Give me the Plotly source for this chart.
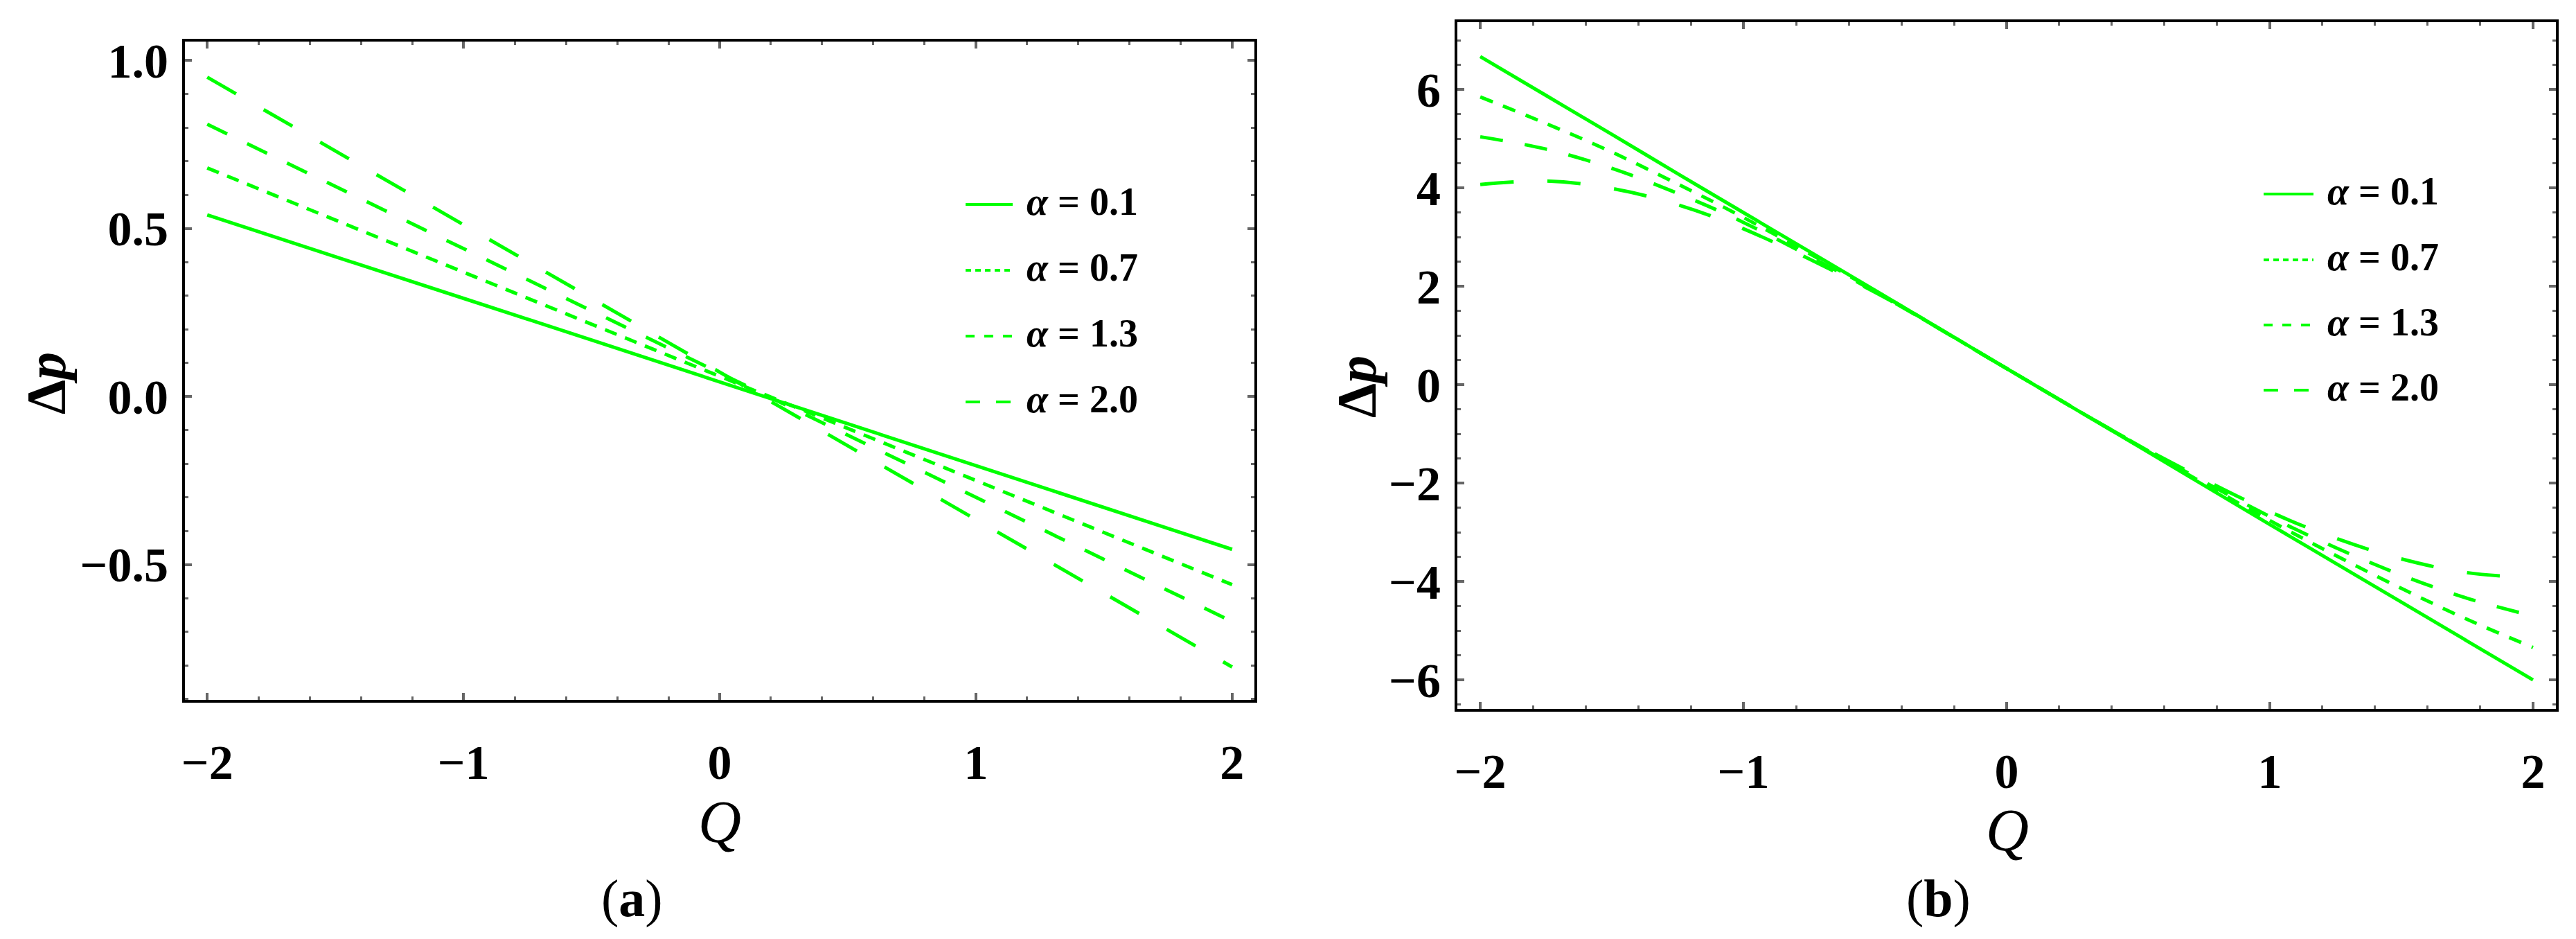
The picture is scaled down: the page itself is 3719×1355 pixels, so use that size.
import plotly.graph_objects as go

W, H = 3719, 1355

# ---------------- data ----------------
alphas = ["0.1", "0.7", "1.3", "2.0"]

# panel (a)
q_a = [-2.0, -1.5, -1.0, -0.5, 0.0, 0.5, 1.0, 1.5, 2.0]
dp_a_01 = [0.54, 0.415, 0.292, 0.168, 0.043, -0.082, -0.206, -0.331, -0.455]
dp_a_07 = [0.68, 0.525, 0.370, 0.215, 0.060, -0.095, -0.250, -0.405, -0.560]
dp_a_13 = [0.81, 0.625, 0.440, 0.255, 0.070, -0.115, -0.300, -0.485, -0.670]
dp_a_20 = [0.95, 0.731, 0.512, 0.292, 0.073, -0.146, -0.366, -0.585, -0.805]

# panel (b)
q_b = [-2.0, -1.75, -1.5, -1.25, -1.0, -0.5, 0.0, 0.5, 1.0, 1.25, 1.5, 1.75, 2.0]
dp_b_01 = [6.67, 5.88, 5.09, 4.29, 3.50, 1.92, 0.33, -1.25, -2.84, -3.63, -4.42, -5.21, -6.00]
dp_b_07 = [5.85, 5.31, 4.73, 4.08, 3.40, 1.91, 0.33, -1.24, -2.76, -3.47, -4.14, -4.77, -5.34]
dp_b_13 = [5.04, 4.79, 4.40, 3.89, 3.30, 1.89, 0.33, -1.23, -2.68, -3.31, -3.87, -4.34, -4.70]
dp_b_20 = [4.07, 4.14, 3.99, 3.66, 3.17, 1.88, 0.33, -1.22, -2.58, -3.12, -3.54, -3.82, -3.92]

# ---------------- styles ----------------
GREEN = "#00FF00"
dash_a = ["solid", "18px,13px", "32px,32px", "48px,46px"]
dash_b = ["solid", "19px,16px", "33px,32px", "48px,49px"]
legend_dash = ["solid", "8px,6px", "13px,14px", "21px,23px"]

fig = go.Figure()

for ys, d in zip([dp_a_01, dp_a_07, dp_a_13, dp_a_20], dash_a):
    fig.add_trace(go.Scatter(x=q_a, y=ys, mode="lines", xaxis="x", yaxis="y",
                             line=dict(color=GREEN, width=5, dash=d), showlegend=False))
for ys, d in zip([dp_b_01, dp_b_07, dp_b_13, dp_b_20], dash_b):
    fig.add_trace(go.Scatter(x=q_b, y=ys, mode="lines", xaxis="x2", yaxis="y2",
                             line=dict(color=GREEN, width=5, dash=d, shape="spline"),
                             showlegend=False))

def px_x(p):
    return p / W

def px_y(p):
    return 1 - p / H

tickfont = dict(family="Liberation Serif", size=70, color="black", weight="bold")

def axis(domain, rng, dtick, minor_dtick, fmt, standoff, anchor):
    return dict(domain=domain, range=rng, dtick=dtick, tick0=0, tickformat=fmt,
                automargin=False,
                showline=True, linecolor="black", linewidth=4, mirror="ticks",
                ticks="inside", ticklen=10, tickwidth=4, tickcolor="#666666",
                minor=dict(dtick=minor_dtick, ticks="inside", ticklen=5, tickwidth=3,
                           tickcolor="#666666", showgrid=False),
                showgrid=False, zeroline=False, tickfont=tickfont,
                ticklabelstandoff=standoff, anchor=anchor)

# pixel frames
La = (259, 1803, 52, 1002)
Lb = (2096, 3682, 24, 1015)

fig.update_layout(
    template="none",
    width=W, height=H, margin=dict(l=0, r=0, t=0, b=0, autoexpand=False),
    paper_bgcolor="white", plot_bgcolor="white", showlegend=False,
    xaxis=axis([px_x(La[0]), px_x(La[1])], [-2.087, 2.087], 1, 0.2, "d", 26, "y"),
    yaxis=axis([px_y(La[3]), px_y(La[2])], [-0.903, 1.056], 0.5, 0.1, ".1f", 6, "x"),
    xaxis2=axis([px_x(Lb[0]), px_x(Lb[1])], [-2.087, 2.087], 1, 0.2, "d", 26, "y2"),
    yaxis2=axis([px_y(Lb[3]), px_y(Lb[2])], [-6.59, 7.37], 2, 0.5, "d", 6, "x2"),
)

ann = []
shapes = []
# axis titles & panel labels
for xc, yc in ((59, 545), (1951, 550)):
    ann.append(dict(x=px_x(xc), y=px_y(yc), xref="paper", yref="paper", showarrow=False,
                    xanchor="center", yanchor="middle", text="<b>Δ<i>p</i></b>", textangle=-90,
                    font=dict(family="Liberation Serif", size=80, color="black")))
for xc, yc in ((1031, 1178), (2890, 1190)):
    ann.append(dict(x=px_x(xc), y=px_y(yc), xref="paper", yref="paper", showarrow=False,
                    xanchor="center", yanchor="middle",
                    text="<i>Q</i>", font=dict(family="Liberation Serif", size=86, color="black")))
for xc, lab in ((904, "a"), (2790, "b")):
    ann.append(dict(x=px_x(xc), y=px_y(1288), xref="paper", yref="paper", showarrow=False,
                    xanchor="center", yanchor="middle",
                    text=f"(<b>{lab}</b>)", font=dict(family="Liberation Serif", size=76, color="black")))

# legends
leg_a = dict(x0=1386, x1=1454, xt=1472, rows=[283, 378, 473, 568])
leg_b = dict(x0=3260, x1=3332, xt=3350, rows=[268, 363, 457, 551])
for leg in (leg_a, leg_b):
    for al, d, yr in zip(alphas, legend_dash, leg["rows"]):
        shapes.append(dict(type="line", xref="paper", yref="paper",
                           x0=px_x(leg["x0"]), x1=px_x(leg["x1"]), y0=px_y(yr + 4), y1=px_y(yr + 4),
                           line=dict(color=GREEN, width=4, dash=d)))
        ann.append(dict(x=px_x(leg["xt"]), y=px_y(yr), xref="paper", yref="paper",
                        xanchor="left", yanchor="middle", showarrow=False,
                        text=f"<b><i>α</i> = {al}</b>",
                        font=dict(family="Liberation Serif", size=56, color="black")))

fig.update_layout(annotations=ann, shapes=shapes)
fig.write_html("out.html")
